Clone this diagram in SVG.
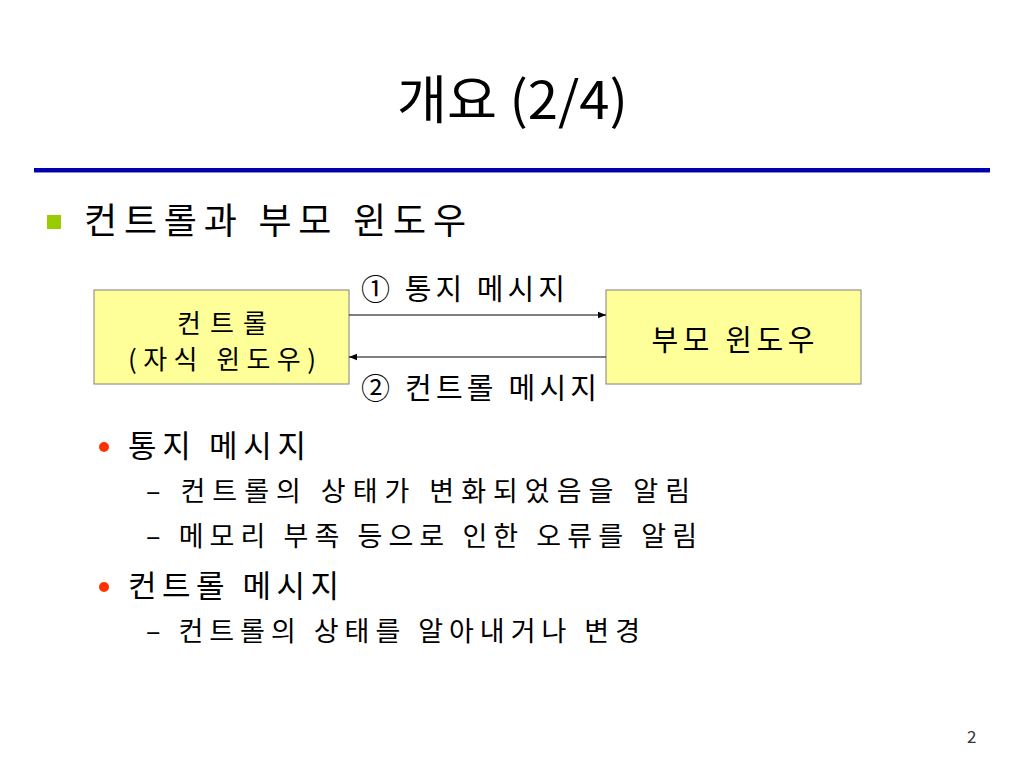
<svg xmlns="http://www.w3.org/2000/svg" width="1024" height="768" viewBox="0 0 1024 768">
<defs>
<style>
text{font-family:"Noto Sans CJK KR","Noto Sans",sans-serif;fill:#000}
.box{fill:#FFFF99;stroke:#808080;stroke-width:1}
.conn{stroke:#000;stroke-width:1.2;fill:none}
.tb{font-size:26px}
.t26{font-size:29px}
.t28{font-size:31px}
.t24{font-size:27px}
</style>
<marker id="ah" viewBox="0 0 10 10" refX="10" refY="5" markerWidth="8" markerHeight="8" markerUnits="userSpaceOnUse" orient="auto">
<path d="M0,1 L10,5 L0,9 Z" fill="#000"/>
</marker>
</defs>
<rect width="1024" height="768" fill="#fff"/>
<text id="title" x="397" y="119" font-size="52" textLength="231" lengthAdjust="spacingAndGlyphs">개요 (2/4)</text>
<rect x="34" y="168" width="956" height="4" fill="#0000AA"/>
<rect x="34" y="172" width="956" height="1" fill="#8888DD"/>
<rect x="47" y="215" width="14" height="14" fill="#99CC00"/>
<text x="84" y="234" font-size="36" textLength="382" lengthAdjust="spacing">컨트롤과 부모 윈도우</text>
<g id="child">
<rect class="box" x="94" y="290" width="255" height="94"/>
<text class="tb" x="222" y="333" text-anchor="middle" textLength="90" lengthAdjust="spacing">컨트롤</text>
<text class="tb" x="222" y="369" text-anchor="middle" textLength="188" lengthAdjust="spacing">(자식 윈도우)</text>
</g>
<g id="parent">
<rect class="box" x="606" y="290" width="255" height="94"/>
<text class="t26" x="733" y="351" text-anchor="middle" textLength="163" lengthAdjust="spacing">부모 윈도우</text>
</g>
<g id="connectors">
<line class="conn" x1="349" y1="315" x2="606" y2="315" marker-end="url(#ah)"/>
<line class="conn" x1="606" y1="357" x2="349" y2="357" marker-end="url(#ah)"/>
<text class="t26" x="361" y="300" textLength="204" lengthAdjust="spacing">① 통지 메시지</text>
<text class="t26" x="361" y="399" textLength="236" lengthAdjust="spacing">② 컨트롤 메시지</text>
</g>
<circle cx="104" cy="447" r="5" fill="#FF3300"/>
<text class="t28" x="128" y="457" textLength="178" lengthAdjust="spacing">통지 메시지</text>
<text class="t24" x="146" y="501" textLength="544" lengthAdjust="spacing">– 컨트롤의 상태가 변화되었음을 알림</text>
<text class="t24" x="146" y="546" textLength="551" lengthAdjust="spacing">– 메모리 부족 등으로 인한 오류를 알림</text>
<circle cx="104" cy="587" r="5" fill="#FF3300"/>
<text class="t28" x="128" y="597" textLength="211" lengthAdjust="spacing">컨트롤 메시지</text>
<text class="t24" x="146" y="641" textLength="494" lengthAdjust="spacing">– 컨트롤의 상태를 알아내거나 변경</text>
<text x="967" y="743" font-size="17" style="fill:#333">2</text>
</svg>
